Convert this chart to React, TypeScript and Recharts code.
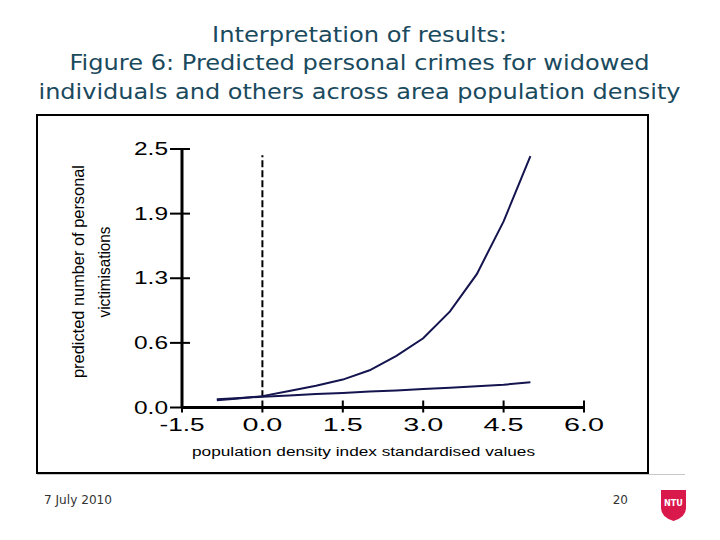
import React from "react";
import { LineChart, Line, XAxis, YAxis, ReferenceLine } from "recharts";

// ---- data ----
const densityX = [-0.85, -0.5, 0, 0.5, 1.0, 1.5, 2.0, 2.5, 3.0, 3.5, 4.0, 4.5, 5.0];
const widowedPred = [0.07, 0.085, 0.11, 0.16, 0.21, 0.27, 0.36, 0.5, 0.67, 0.93, 1.29, 1.8, 2.43];
const othersPred = [0.08, 0.09, 0.105, 0.115, 0.13, 0.14, 0.155, 0.165, 0.178, 0.19, 0.205, 0.22, 0.245];

const xTicks = [-1.5, 0, 1.5, 3, 4.5, 6];
const xTickLabels = ["-1.5", "0.0", "1.5", "3.0", "4.5", "6.0"];
const yTicks = [0, 0.625, 1.25, 1.875, 2.5];
const yTickLabels = ["0.0", "0.6", "1.3", "1.9", "2.5"];

const titleLines = [
  "Interpretation of results:",
  "Figure 6: Predicted personal crimes for widowed",
  "individuals and others across area population density",
];
const titleWidths = [295, 580, 642];
const yTitleLines = ["predicted number of personal", "victimisations"];
const xTitle = "population density index standardised values";
const footerDate = "7 July 2010";
const footerPage = "20";

const rows = densityX.map((x, i) => ({ x, widowed: widowedPred[i], others: othersPred[i] }));

const AXIS_FONT = "'Liberation Sans', Arial, sans-serif";
const SLIDE_FONT = "'DejaVu Sans', Verdana, sans-serif";
const LINE_COLOR = "#14144f";

const YTick = (props: any) => {
  const { x, y, payload } = props;
  const idx = yTicks.indexOf(payload.value);
  const label = idx >= 0 ? yTickLabels[idx] : String(payload.value);
  return (
    <g>
      <line x1={x + 2} x2={x + 22} y1={y} y2={y} stroke="#000" strokeWidth={2} />
      <text
        x={x}
        y={y + 6}
        textAnchor="end"
        fontFamily={AXIS_FONT}
        fontSize={18}
        fill="#000"
        textLength={34}
        lengthAdjust="spacingAndGlyphs"
      >
        {label}
      </text>
    </g>
  );
};

const XTick = (props: any) => {
  const { x, y, payload } = props;
  const idx = xTicks.indexOf(payload.value);
  const label = idx >= 0 ? xTickLabels[idx] : String(payload.value);
  const len = label.length === 4 ? 45 : 40;
  return (
    <g>
      <line x1={x} x2={x} y1={y - 12} y2={y} stroke="#000" strokeWidth={2} />
      <text
        x={x}
        y={y + 18}
        textAnchor="middle"
        fontFamily={AXIS_FONT}
        fontSize={19}
        fill="#000"
        textLength={len}
        lengthAdjust="spacingAndGlyphs"
      >
        {label}
      </text>
    </g>
  );
};

export default function App() {
  return (
    <div style={{ position: "absolute", left: 0, top: 0, width: 720, height: 540, background: "#fff" }}>
      {/* frame */}
      <svg width={720} height={540} style={{ position: "absolute", left: 0, top: 0 }}>
        <line x1={37} x2={685} y1={474.5} y2={474.5} stroke="#c8c8c8" strokeWidth={1} />
        <rect x={37} y={115} width={611} height={358} fill="#fff" stroke="#000" strokeWidth={2} />
      </svg>
      <div style={{ position: "absolute", left: 0, top: 0 }}>
        <LineChart width={720} height={540} data={rows} margin={{ top: 149, right: 136, bottom: 102.5, left: 122 }}>
          <XAxis
            dataKey="x"
            type="number"
            domain={[-1.5, 6]}
            ticks={xTicks}
            interval={0}
            height={30}
            tickSize={5}
            tickMargin={0}
            tickLine={false}
            axisLine={{ stroke: "#000", strokeWidth: 3 }}
            tick={<XTick />}
            allowDataOverflow
          />
          <YAxis
            type="number"
            domain={[0, 2.5]}
            ticks={yTicks}
            interval={0}
            width={60}
            tickSize={12}
            tickMargin={2}
            tickLine={false}
            axisLine={{ stroke: "#000", strokeWidth: 3 }}
            tick={<YTick />}
            allowDataOverflow
          />
          <ReferenceLine
            segment={[{ x: 0, y: 0.1 }, { x: 0, y: 2.44 }]}
            stroke="#000"
            strokeWidth={2}
            strokeDasharray="7 3"
          />
          <Line type="linear" dataKey="others" stroke={LINE_COLOR} strokeWidth={2} dot={false} isAnimationActive={false} />
          <Line type="linear" dataKey="widowed" stroke={LINE_COLOR} strokeWidth={2} dot={false} isAnimationActive={false} />
        </LineChart>
      </div>
      {/* titles and text */}
      <svg width={720} height={540} style={{ position: "absolute", left: 0, top: 0, pointerEvents: "none" }}>
        {titleLines.map((t, i) => (
          <text
            key={i}
            x={359.5}
            y={41.5 + i * 28.5}
            textAnchor="middle"
            fontFamily={SLIDE_FONT}
            fontSize={22}
            fill="#1a4a5e"
            textLength={titleWidths[i]}
            lengthAdjust="spacingAndGlyphs"
          >
            {t}
          </text>
        ))}
        <text
          transform="rotate(-90 84 271.5)"
          x={84}
          y={271.5}
          textAnchor="middle"
          fontFamily={AXIS_FONT}
          fontSize={16}
          fill="#000"
          textLength={213}
          lengthAdjust="spacingAndGlyphs"
        >
          {yTitleLines[0]}
        </text>
        <text
          transform="rotate(-90 110 272)"
          x={110}
          y={272}
          textAnchor="middle"
          fontFamily={AXIS_FONT}
          fontSize={16}
          fill="#000"
          textLength={91}
          lengthAdjust="spacingAndGlyphs"
        >
          {yTitleLines[1]}
        </text>
        <text
          x={363.5}
          y={456}
          textAnchor="middle"
          fontFamily={AXIS_FONT}
          fontSize={12}
          fill="#000"
          textLength={343}
          lengthAdjust="spacingAndGlyphs"
        >
          {xTitle}
        </text>
        <text x={44} y={504} fontFamily={SLIDE_FONT} fontSize={12} fill="#333" textLength={68} lengthAdjust="spacingAndGlyphs">
          {footerDate}
        </text>
        <text x={628} y={504} textAnchor="end" fontFamily={SLIDE_FONT} fontSize={12} fill="#333">
          {footerPage}
        </text>
        <path d="M661 490 H686 V508 Q686 517 673.5 521 Q661 517 661 508 Z" fill="#d9184b" />
        <text
          x={673.5}
          y={506}
          textAnchor="middle"
          fontFamily="'DejaVu Sans Condensed', 'DejaVu Sans', sans-serif"
          fontWeight="bold"
          fontSize={9}
          fill="#fff"
        >
          NTU
        </text>
      </svg>
    </div>
  );
}
